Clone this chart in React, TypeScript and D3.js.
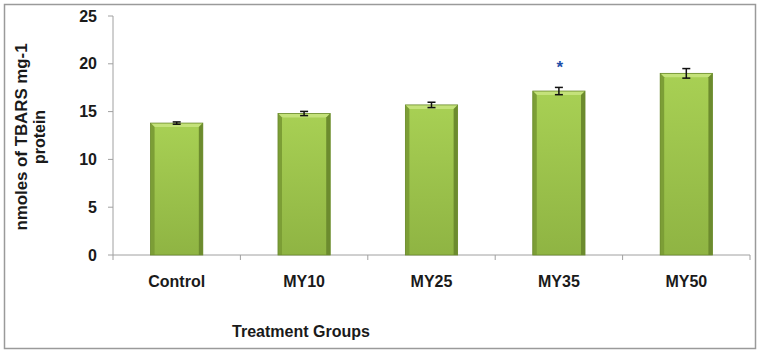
import * as d3 from "d3";
import React from "react";

const groups = ["Control", "MY10", "MY25", "MY35", "MY50"];
const means = [13.8, 14.8, 15.7, 17.15, 19.0];
const errs = [0.12, 0.22, 0.28, 0.38, 0.5];
const starY = [null, null, null, 19.8, null];
const yTicks = [0, 5, 10, 15, 20, 25];

export default function App() {
  const w = 760, h = 351;
  const m = { top: 16, right: 10, bottom: 96, left: 113 };
  const x = d3.scaleBand<string>().domain(groups).range([m.left, 750]).paddingInner(0.59).paddingOuter(0.295);
  const y = d3.scaleLinear().domain([0, 25]).range([255, 16]);
  const bw = x.bandwidth();
  const font = "Arial, 'Liberation Sans', sans-serif";
  const bev = 4;

  return (
    <div style={{ position: "absolute", left: 0, top: 0 }}>
      <svg width={w} height={h} style={{ display: "block", fontFamily: font }}>
        <defs>
          <linearGradient id="face" x1="0" x2="0" y1="0" y2="1">
            <stop offset="0" stopColor="#a8d054" />
            <stop offset="1" stopColor="#8fb443" />
          </linearGradient>
        </defs>
        <rect x={4.5} y={4.5} width={751} height={344} fill="#fff" stroke="#9a9a9a" strokeWidth={1.5} />

        {/* y axis */}
        <line x1={m.left} x2={m.left} y1={y(25)} y2={y(0)} stroke="#a0a0a0" />
        {yTicks.map(t => (
          <g key={t}>
            <line x1={m.left - 5} x2={m.left} y1={y(t)} y2={y(t)} stroke="#a0a0a0" />
            <text x={97} y={y(t)} textAnchor="end" dominantBaseline="central" fontSize={16} fontWeight="bold" fill="#1a1a1a">{t}</text>
          </g>
        ))}
        {/* x axis */}
        <line x1={m.left} x2={750} y1={y(0)} y2={y(0)} stroke="#a0a0a0" />
        {groups.map((g, i) => (
          <line key={g} x1={m.left + i * x.step()} x2={m.left + i * x.step()} y1={y(0)} y2={y(0) + 5} stroke="#a0a0a0" />
        ))}
        <line x1={750} x2={750} y1={y(0)} y2={y(0) + 5} stroke="#a0a0a0" />

        {/* bars */}
        {groups.map((g, i) => {
          const x0 = x(g)!, x1 = x0 + bw, yt = y(means[i]), yb = y(0);
          return (
            <g key={g}>
              <rect x={x0} y={yt} width={bw} height={yb - yt} fill="url(#face)" />
              <polygon points={`${x0},${yt} ${x1},${yt} ${x1 - bev},${yt + bev} ${x0 + bev},${yt + bev}`} fill="#c4e27a" />
              <polygon points={`${x0},${yt} ${x0 + bev},${yt + bev} ${x0 + bev},${yb} ${x0},${yb}`} fill="#7c9e36" />
              <polygon points={`${x1},${yt} ${x1 - bev},${yt + bev} ${x1 - bev},${yb} ${x1},${yb}`} fill="#6c8b2e" />
              <rect x={x0} y={yt} width={bw} height={yb - yt} fill="none" stroke="#6a8a2c" strokeWidth={0.8} />
            </g>
          );
        })}

        {/* error bars */}
        {groups.map((g, i) => {
          const cx = x(g)! + bw / 2;
          const a = y(means[i] + errs[i]), b = y(means[i] - errs[i]);
          return (
            <g key={g} stroke="#111" strokeWidth={1.5}>
              <line x1={cx} x2={cx} y1={a} y2={b} />
              <line x1={cx - 4} x2={cx + 4} y1={a} y2={a} />
              <line x1={cx - 4} x2={cx + 4} y1={b} y2={b} />
            </g>
          );
        })}

        {starY.map((v, i) => v === null ? null : (
          <text key={i} x={x(groups[i])! + bw / 2 + 1} y={y(v) + 2} textAnchor="middle" dominantBaseline="central" fontSize={17} fontWeight="bold" fill="#1f4fa8">*</text>
        ))}

        {groups.map(g => (
          <text key={g} x={x(g)! + bw / 2} y={287} textAnchor="middle" fontSize={16} fontWeight="bold" fill="#1a1a1a">{g}</text>
        ))}
        <text x={301} y={337} textAnchor="middle" fontSize={16} fontWeight="bold" fill="#1a1a1a">Treatment Groups</text>

        <g transform={`translate(27,137) rotate(-90)`}>
          <text x={0} y={0} textAnchor="middle" fontSize={16} fontWeight="bold" fill="#1a1a1a" textLength={187} lengthAdjust="spacingAndGlyphs">nmoles of TBARS mg-1</text>
          <text x={0} y={18} textAnchor="middle" fontSize={16} fontWeight="bold" fill="#1a1a1a">protein</text>
        </g>
      </svg>
    </div>
  );
}
